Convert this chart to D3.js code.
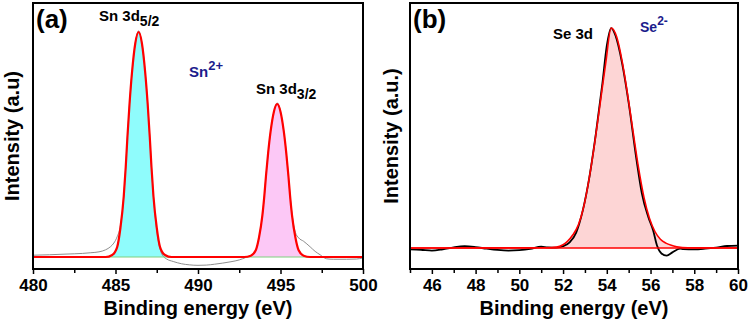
<!DOCTYPE html>
<html>
<head>
<meta charset="utf-8">
<script src="https://cdn.jsdelivr.net/npm/d3@7"></script>
<style>
  body { margin: 0; background: #fff; }
  text { font-family: "Liberation Sans", Arial, sans-serif; font-weight: bold; }
</style>
</head>
<body>
<svg id="chart" width="749" height="320"></svg>
<script>
// ---- panel (a): Sn 3d ----
var snPeak1 = [[484.4,0],[484.8,0.9],[485.1,4.4],[485.3,13],[485.5,27],[485.62,40],[485.72,53],[485.85,68],[486.0,82],[486.2,95],[486.4,100],
  [486.6,95],[486.8,82],[486.95,68],[487.08,53],[487.18,40],[487.3,27],[487.5,13],[487.7,4.4],[488.0,0.9],[488.4,0]];
var snPeak2 = [[492.8,0],[493.2,0.6],[493.5,3],[493.7,8.8],[493.9,18.4],[494.02,27.2],[494.12,36],[494.25,46.2],[494.4,55.8],[494.6,64.6],[494.8,68],
  [495.0,64.6],[495.2,55.8],[495.35,46.2],[495.48,36],[495.58,27.2],[495.7,18.4],[495.9,8.8],[496.1,3],[496.4,0.6],[496.8,0]];
var snRaw = [[480,0.8],[481,1.0],[482,1.3],[483,1.6],[483.5,1.9],[484.0,2.3],[484.4,3.2],[484.7,4.6],[484.9,6.2],[485.1,9],[485.3,14],[485.5,27],
  [485.62,40],[485.72,53],[485.85,68],[486.0,82],[486.2,95],[486.4,100.5],[486.6,95],[486.8,82],[486.95,68],[487.08,53],[487.18,40],[487.3,27],
  [487.5,12],[487.7,3.5],[487.9,0.3],[488.1,-0.9],[488.5,-2],[489,-3],[489.5,-3.5],[490,-3.7],[490.5,-3.6],[491,-3.2],[491.5,-2.7],[492,-2.1],
  [492.5,-1.3],[492.9,-0.2],[493.2,0.7],[493.5,3],[493.7,8.8],[493.9,18.4],[494.02,27.2],[494.12,36],[494.25,46.2],[494.4,55.8],[494.6,64.6],
  [494.8,68.5],[495.0,64.6],[495.2,55.8],[495.35,46.2],[495.48,36],[495.58,27.5],[495.7,19],[495.9,11],[496.1,8.5],[496.4,7],[496.8,4.5],
  [497.1,2.5],[497.4,1],[497.8,-0.8],[498.2,-1.0],[499,-1.0],[499.6,-0.9],[500,-0.4]];
var snBaseline = [[484.2,0],[497.4,0]];
var snTicks = [480, 485, 490, 495, 500];
var snMinor = [482.5, 487.5, 492.5, 497.5];

// ---- panel (b): Se 3d ----
var seFit = [[45,0],[51.2,0.1],[51.7,0.4],[52.0,1.5],[52.2,3],[52.45,6],[52.7,10.5],[52.95,19],[53.2,32],[53.45,48],[53.7,66],[53.95,84],[54.2,100],
  [54.45,96],[54.7,85],[54.95,70],[55.2,53],[55.45,36.5],[55.7,23],[55.95,13.5],[56.2,7.5],[56.45,4],[56.7,2.2],[56.95,1.2],[57.2,0.6],[57.7,0.1],[60,0]];
var seRaw = [[45,-0.6],[45.5,-0.8],[46,-1.2],[46.5,-0.6],[47,0.3],[47.5,0.8],[48,0.4],[48.5,-0.3],[49,-0.9],[49.5,-1.2],[50,-1],[50.5,-0.4],
  [51,0.6],[51.3,0.3],[51.7,0.2],[52,0.8],[52.3,2.5],[52.6,7],[52.9,17],[53.2,32],[53.5,52],[53.8,75],[54.0,92],[54.2,100],[54.4,96.5],
  [54.7,84],[55.0,66],[55.36,40],[55.6,25],[55.9,14],[56.12,8],[56.3,1],[56.5,-2.5],[56.74,-3.5],[57.0,-2],[57.35,-0.3],[57.5,-0.5],
  [58,-0.6],[58.5,-0.3],[59,0.2],[59.5,0.9],[60,1.1]];
var seTicks = [46, 48, 50, 52, 54, 56, 58, 60];
var seMinor = [45, 47, 49, 51, 53, 55, 57, 59];

var svg = d3.select('#chart');

function drawPanel(opt) {
  var x = d3.scaleLinear().domain(opt.xDomain).range([opt.left, opt.right]);
  var y = d3.scaleLinear().domain(opt.yDomain).range([269, 3]);
  var g = svg.append('g');
  var curve = d3.curveMonotoneX;

  var area = d3.area().x(d => x(d[0])).y0(y(0)).y1(d => y(d[1])).curve(curve);
  var line = d3.line().x(d => x(d[0])).y(d => y(d[1])).curve(curve);

  opt.fills.forEach(f => {
    g.append('path').attr('d', area(f.data)).style('fill', f.color).style('stroke', 'none');
  });
  opt.lines.forEach(l => {
    g.append('path').attr('d', line(l.data))
      .style('fill', 'none').style('stroke', l.color).style('stroke-width', l.width);
  });

  // minor ticks
  g.append('g').attr('transform', 'translate(0,269)')
    .call(d3.axisBottom(x).tickValues(opt.minor).tickSize(4).tickFormat(''))
    .call(a => a.select('.domain').remove())
    .call(a => a.selectAll('line').style('stroke', '#000').style('stroke-width', 1.5));
  // major ticks
  g.append('g').attr('transform', 'translate(0,269)')
    .call(d3.axisBottom(x).tickValues(opt.ticks).tickSize(5).tickPadding(5).tickFormat(d3.format('d')))
    .call(a => a.select('.domain').remove())
    .call(a => a.selectAll('line').style('stroke', '#000').style('stroke-width', 1.5))
    .call(a => a.selectAll('text').style('font-size', '17px').style('fill', '#000')
      .style('font-family', '"Liberation Sans", Arial, sans-serif').style('font-weight', 'bold'));

  g.append('rect')
    .attr('x', opt.left).attr('y', 3)
    .attr('width', opt.right - opt.left).attr('height', 266)
    .style('fill', 'none').style('stroke', '#000').style('stroke-width', 2);

  g.append('text')
    .attr('x', (opt.left + opt.right) / 2).attr('y', 315)
    .attr('text-anchor', 'middle').style('font-size', '20px')
    .text('Binding energy (eV)');

  g.append('text')
    .attr('transform', 'translate(' + opt.yLabelX + ',136) rotate(-90)')
    .attr('text-anchor', 'middle').style('font-size', '20px')
    .text(opt.yLabel);

  g.append('text')
    .attr('x', opt.left + 3).attr('y', 28)
    .style('font-size', '26px')
    .text(opt.tag);

  return { x: x, y: y, g: g };
}

drawPanel({
  xDomain: [480, 500], yDomain: [-5.33, 112.9], left: 33, right: 363,
  ticks: snTicks, minor: snMinor, tag: '(a)', yLabel: 'Intensity (a.u)', yLabelX: 19,
  fills: [{ data: snPeak1, color: '#8ffcfc' }, { data: snPeak2, color: '#fcc8f6' }],
  lines: [
    { data: snRaw, color: '#808080', width: 0.9 },
    { data: snBaseline, color: '#7fd07f', width: 1 },
    { data: [[480, 0]].concat(snPeak1, snPeak2, [[500, 0]]), color: '#ff0000', width: 2.2 }
  ]
});

drawPanel({
  xDomain: [45, 60], yDomain: [-9.55, 111.4], left: 410, right: 738,
  ticks: seTicks, minor: seMinor, tag: '(b)', yLabel: 'Intensity (a.u.)', yLabelX: 398,
  fills: [{ data: seFit, color: '#fdd5d5' }],
  lines: [
    { data: seRaw, color: '#000', width: 1.8 },
    { data: [[45, 0], [60, 0]], color: '#ff0000', width: 1.3 },
    { data: seFit, color: '#ff0000', width: 1.6 }
  ]
});

// annotations
function label(x, y, main, sub, sup, color, size) {
  var t = svg.append('text').attr('x', x).attr('y', y).style('font-size', size + 'px').style('fill', color);
  t.append('tspan').text(main);
  if (sub) t.append('tspan').attr('dy', 5).style('font-size', (size - 1) + 'px').text(sub);
  if (sup) t.append('tspan').attr('dy', -7).style('font-size', (size - 2) + 'px').text(sup);
}
label(99, 21, 'Sn 3d', '5/2', null, '#000', 15);
label(189, 77, 'Sn', null, '2+', '#1c1c8c', 15);
label(256, 94, 'Sn 3d', '3/2', null, '#000', 15);
label(553, 39, 'Se 3d', null, null, '#000', 15);
label(640, 32, 'Se', null, '2-', '#1c1c8c', 14);
</script>
</body>
</html>
